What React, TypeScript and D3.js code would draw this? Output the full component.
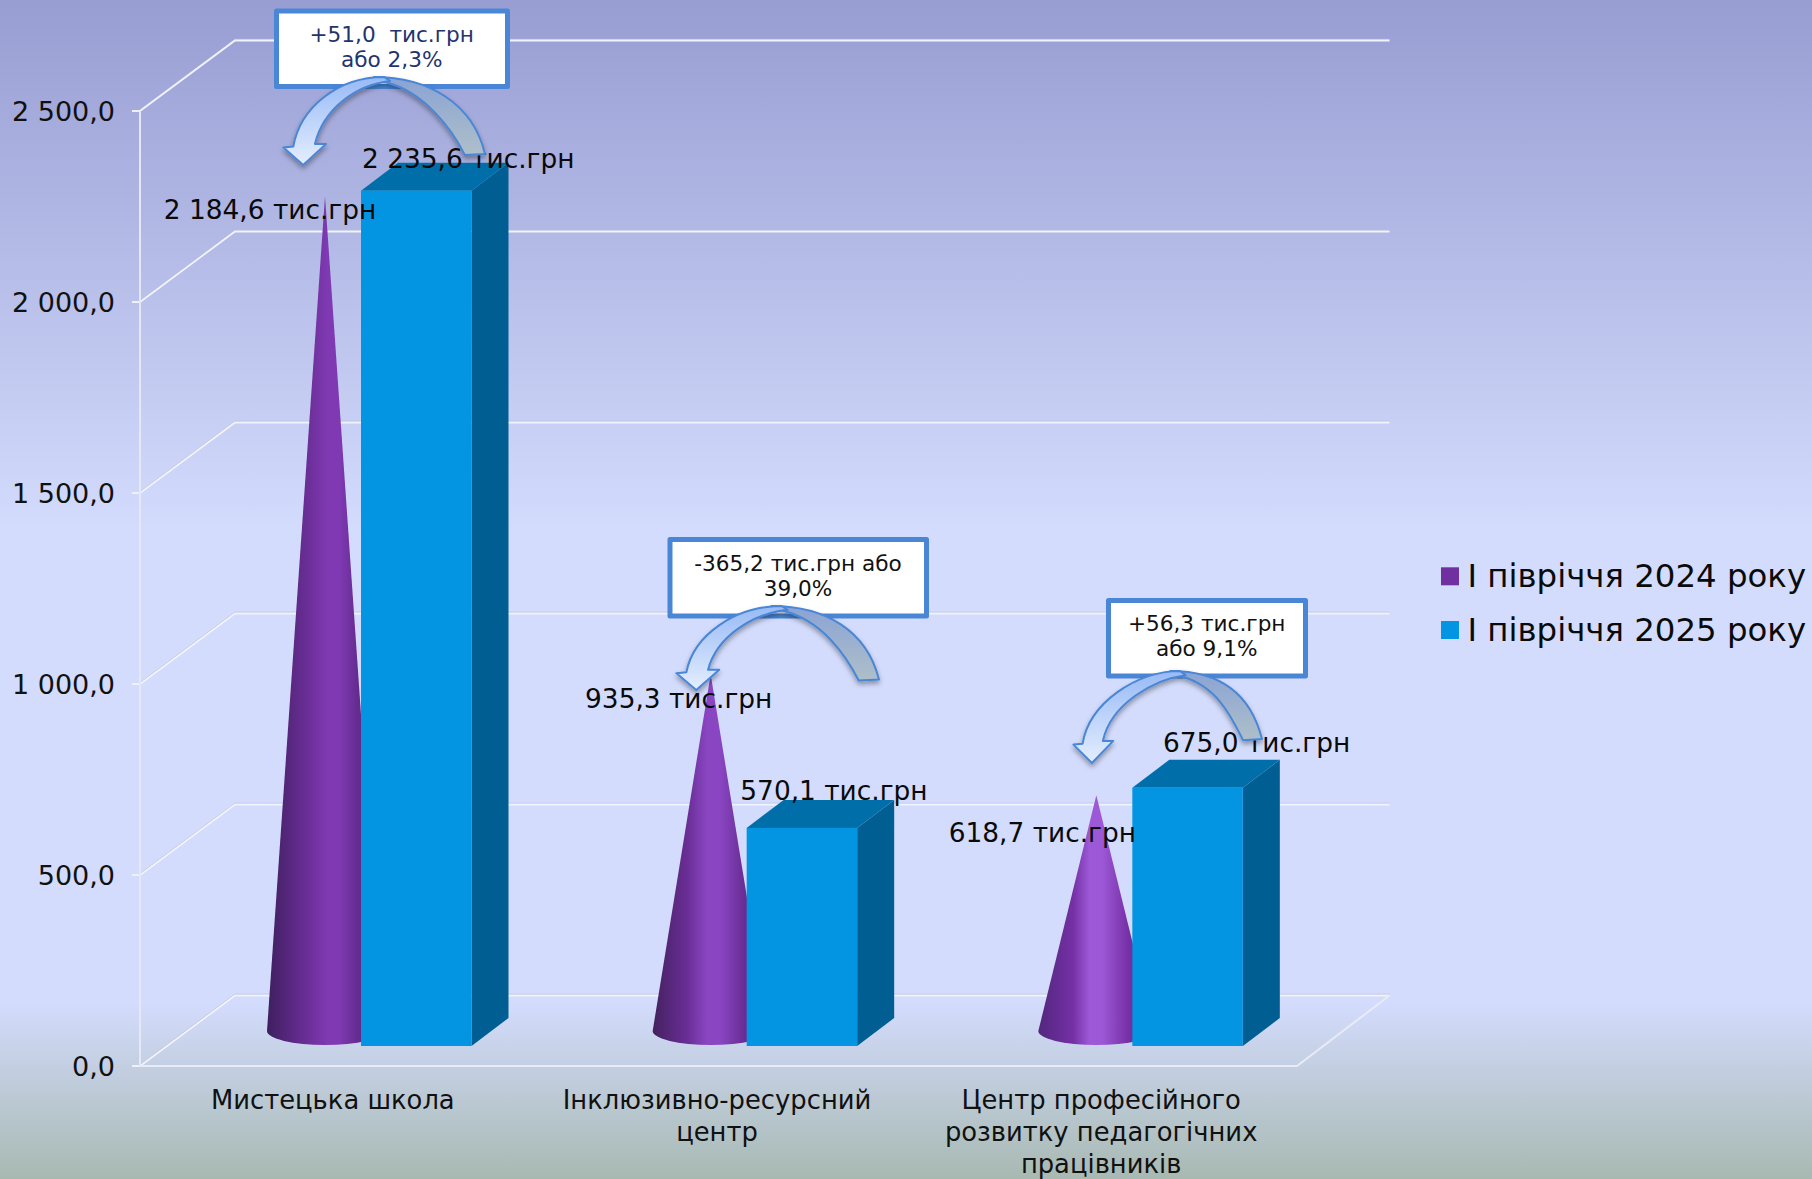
import { useEffect, useRef } from "react"
import * as d3 from "d3"

const categories = ["Мистецька школа", "Інклюзивно-ресурсний центр", "Центр професійного розвитку педагогічних працівників"]
const categoryLines = [["Мистецька школа"], ["Інклюзивно-ресурсний", "центр"], ["Центр професійного", "розвитку педагогічних", "працівників"]]
const seriesNames = ["І півріччя 2024 року", "І півріччя 2025 року"]
const values2024 = [2184.6, 935.3, 618.7]
const values2025 = [2235.6, 570.1, 675.0]
const yTicks = [0, 500, 1000, 1500, 2000, 2500]
const calloutTexts = [
  ["+51,0  тис.грн", "або 2,3%"],
  ["-365,2 тис.грн або", "39,0%"],
  ["+56,3 тис.грн", "або 9,1%"],
]

const WIDTH = 1812
const HEIGHT = 1179
const PURPLE = "#7030a0"
const BLUE = "#0395e1"
const FONT = "'DejaVu Sans', Verdana, sans-serif"

// label anchors, relative to the mark they belong to
const coneLabelOffset = [[-55, 23], [-32, 34], [-54, 47]]
const barLabelOffset = [[52, -23], [32, -28], [69, -36]]

const calloutBoxes = [
  { x: 276.5, y: 11, w: 231, h: 75.5, color: "#1f3470", cx: 391.7, base: 41.7 },
  { x: 670, y: 539.5, w: 256.5, h: 76.5, color: "#111", cx: 798, base: 571 },
  { x: 1108.5, y: 600.5, w: 197, h: 75.5, color: "#111", cx: 1206.7, base: 631 },
]
const calloutArrows = [
  { x0: 283, x1: 485, y0: 77, y1: 165, tail: 0.875, peak: 0 },
  { x0: 676, x1: 879, y0: 606, y1: 690, tail: 0.875, peak: 0.02 },
  { x0: 1073, x1: 1262, y0: 671, y1: 763, tail: 0.74, peak: 0.066 },
]
// the shine on the cones is stronger on the shorter ones
const coneShades = [
  { edge: "#3f1f60", mid: "#652c90", light: "#7f39b2", pos: 0.6 },
  { edge: "#44215f", mid: "#6a2e96", light: "#8a46c2", pos: 0.55 },
  { edge: "#52277f", mid: "#7530a5", light: "#9c58d6", pos: 0.52 },
]

const locale = d3.formatLocale({ decimal: ",", thousands: " ", grouping: [3], currency: ["", ""] })
const fmt = locale.format(",.1f")

export default function App() {
  const svgRef = useRef<SVGSVGElement>(null)

  useEffect(() => {
    if (!svgRef.current) return
    const svg = d3.select(svgRef.current)
    svg.selectAll("*").remove()

    // 3d frame of the chart
    const x0 = 140
    const x1 = 1297
    const depthX = 95
    const depthY = -70.5
    const backRight = 1389.5
    const yWall = d3.scaleLinear().domain([0, 2500]).range([1066, 111])
    const yBar = d3.scaleLinear().domain([0, 2500]).range([1046, 89.5])
    const xBand = d3.scaleBand<string>().domain(categories).range([x0, x1])

    const defs = svg.append("defs")

    const addGradient = (id: string, x2: number, y2: number, stops: [number, string][]) => {
      const g = defs.append("linearGradient").attr("id", id).attr("x1", 0).attr("y1", 0).attr("x2", x2).attr("y2", y2)
      stops.forEach(([o, c]) => g.append("stop").attr("offset", o).attr("stop-color", c))
    }
    addGradient("bg", 0, 1, [
      [0, "#989dd2"],
      [0.45, "#d3dcfd"],
      [0.85, "#d3dcfd"],
      [1, "#a8b9b2"],
    ])
    coneShades.forEach((s, i) => {
      addGradient(`cone${i}`, 1, 0, [
        [0, s.edge],
        [0.3, s.mid],
        [s.pos - 0.08, s.light],
        [s.pos + 0.03, s.light],
        [0.78, s.mid],
        [1, "#4e2578"],
      ])
    })
    addGradient("arrowFront", 0, 1, [
      [0, "#98baf5"],
      [1, "#e4eeff"],
    ])
    addGradient("arrowBack", 0, 1, [
      [0, "#8aa3d4"],
      [1, "#aebfc9"],
    ])

    const shadow = defs.append("filter").attr("id", "shadow").attr("x", "-20%").attr("y", "-20%").attr("width", "140%").attr("height", "140%")
    shadow.append("feDropShadow").attr("dx", 0).attr("dy", 3).attr("stdDeviation", 2.5).attr("flood-color", "#000").attr("flood-opacity", 0.35)

    svg.append("rect").attr("width", WIDTH).attr("height", HEIGHT).attr("fill", "url(#bg)")

    // Gridlines on the walls
    const grid = svg.append("g").attr("fill", "none")
    yTicks.forEach((t) => {
      const y = yWall(t)
      const line = d3.path()
      line.moveTo(x0, y)
      line.lineTo(x0 + depthX, y + depthY)
      line.lineTo(backRight, y + depthY)
      grid.append("path").attr("d", line.toString()).attr("stroke", "#b4bad8").attr("stroke-width", 1).attr("transform", "translate(0,-1.2)")
      grid.append("path").attr("d", line.toString()).attr("stroke", "#f1f3fc").attr("stroke-width", 1.8)
      grid.append("line").attr("x1", x0 - 8).attr("x2", x0).attr("y1", y).attr("y2", y).attr("stroke", "#eef1fb").attr("stroke-width", 2)
    })
    grid.append("line").attr("x1", x0).attr("x2", x0).attr("y1", yWall(2500)).attr("y2", yWall(0)).attr("stroke", "#e4e7f5").attr("stroke-width", 2)
    const floor = d3.path()
    floor.moveTo(x0, yWall(0))
    floor.lineTo(x1, yWall(0))
    floor.lineTo(backRight, yWall(0) + depthY)
    grid.append("path").attr("d", floor.toString()).attr("stroke", "#e8ebf6").attr("stroke-width", 2)

    // Y axis labels
    svg
      .append("g")
      .selectAll("text")
      .data(yTicks)
      .enter()
      .append("text")
      .attr("x", 115)
      .attr("y", (d) => yWall(d) + 10)
      .attr("text-anchor", "end")
      .attr("font-size", 27)
      .attr("fill", "#111")
      .text((d) => fmt(d))

    // Cones
    const coneOffset = 185
    const coneRx = 58
    const barOffset = 221
    const barWidth = 110.5
    const barDx = 37
    const barDy = -28
    const coneBaseY = yBar(0) - 15
    const coneRy = 14

    categories.forEach((c, i) => {
      const cx = (xBand(c) || 0) + coneOffset
      svg
        .append("path")
        .attr(
          "d",
          `M${cx - coneRx},${coneBaseY} L${cx},${yBar(values2024[i]) + barDy / 2} L${cx + coneRx},${coneBaseY} A${coneRx},${coneRy} 0 0 1 ${cx - coneRx},${coneBaseY} Z`,
        )
        .attr("fill", `url(#cone${i})`)
    })

    // Bars
    categories.forEach((c, i) => {
      const left = (xBand(c) || 0) + barOffset
      const right = left + barWidth
      const top = yBar(values2025[i])
      const bottom = yBar(0)
      const g = svg.append("g")
      g.append("path")
        .attr("d", `M${right},${top} L${right + barDx},${top + barDy} L${right + barDx},${bottom + barDy} L${right},${bottom} Z`)
        .attr("fill", "#005e93")
      g.append("path")
        .attr("d", `M${left},${top} L${left + barDx},${top + barDy} L${right + barDx},${top + barDy} L${right},${top} Z`)
        .attr("fill", "#006fa9")
      g.append("rect").attr("x", left).attr("y", top).attr("width", barWidth).attr("height", bottom - top).attr("fill", BLUE)
    })

    // Value labels
    const labels = svg.append("g").attr("font-size", 26.4).attr("fill", "#0a0a0a").attr("text-anchor", "middle")
    categories.forEach((c, i) => {
      const cx = (xBand(c) || 0) + coneOffset
      labels
        .append("text")
        .attr("x", cx + coneLabelOffset[i][0])
        .attr("y", yBar(values2024[i]) + barDy / 2 + coneLabelOffset[i][1])
        .text(`${fmt(values2024[i])} тис.грн`)
      const bx = (xBand(c) || 0) + barOffset + barWidth / 2
      labels
        .append("text")
        .attr("x", bx + barLabelOffset[i][0])
        .attr("y", yBar(values2025[i]) + barLabelOffset[i][1])
        .text(`${fmt(values2025[i])} тис.грн`)
    })

    // Category labels
    categoryLines.forEach((lines, i) => {
      const cx = (xBand(categories[i]) || 0) + xBand.bandwidth() / 2
      lines.forEach((l, k) => {
        svg
          .append("text")
          .attr("x", cx - i * 1.5)
          .attr("y", 1109 + k * 32)
          .attr("text-anchor", "middle")
          .attr("font-size", 25.8)
          .attr("fill", "#111")
          .text(l)
      })
    })

    // Callout boxes
    calloutBoxes.forEach((b, i) => {
      svg
        .append("rect")
        .attr("x", b.x)
        .attr("y", b.y)
        .attr("width", b.w)
        .attr("height", b.h)
        .attr("fill", "#fff")
        .attr("stroke", "#4a86d6")
        .attr("stroke-width", 5)
        .attr("stroke-linejoin", "round")
      calloutTexts[i].forEach((t, k) => {
        svg
          .append("text")
          .attr("x", b.cx)
          .attr("y", b.base + k * 25.3)
          .attr("text-anchor", "middle")
          .attr("font-size", 21.6)
          .attr("xml:space", "preserve")
          .style("white-space", "pre")
          .attr("fill", b.color)
          .text(t)
      })
    })

    // Curved arrows over the boxes
    calloutArrows.forEach((a) => {
      const ax = d3.scaleLinear().domain([0, 1]).range([a.x0, a.x1])
      const ay = d3.scaleLinear().domain([0, 1]).range([a.y0, a.y1])
      const p = a.peak
      const t = a.tail
      const back = d3.path()
      back.moveTo(ax(0.45 + p), ay(0))
      back.bezierCurveTo(ax(0.72 + p), ay(0), ax(0.94), ay(0.3 * (t / 0.875)), ax(1), ay(t))
      back.lineTo(ax(0.9), ay(t + 0.012))
      back.bezierCurveTo(ax(0.84), ay(0.6 * (t / 0.875)), ax(0.7 + p), ay(0.17), ax(0.51 + p), ay(0.06))
      back.closePath()
      const front = d3.path()
      front.moveTo(ax(0.051), ay(0.79))
      front.bezierCurveTo(ax(0.085), ay(0.35), ax(0.27 + p), ay(0), ax(0.5 + p), ay(0))
      front.lineTo(ax(0.53 + p), ay(0.045))
      front.bezierCurveTo(ax(0.36 + p), ay(0.09), ax(0.2), ay(0.36), ax(0.158), ay(0.76))
      front.lineTo(ax(0.213), ay(0.76))
      front.lineTo(ax(0.1), ay(1))
      front.lineTo(ax(0.002), ay(0.8))
      front.closePath()
      const g = svg.append("g").attr("stroke", "#4a86d6").attr("stroke-width", 2).attr("stroke-linejoin", "round").attr("filter", "url(#shadow)")
      g.append("path").attr("d", back.toString()).attr("fill", "url(#arrowBack)")
      g.append("path").attr("d", front.toString()).attr("fill", "url(#arrowFront)")
    })

    // Legend
    const legendColors = [PURPLE, BLUE]
    seriesNames.forEach((name, i) => {
      const y = 567.3 + i * 53.7
      svg.append("rect").attr("x", 1441).attr("y", y).attr("width", 18).attr("height", 18).attr("fill", legendColors[i])
      svg.append("text").attr("x", 1467.5).attr("y", y + 19.5).attr("font-size", 32.4).attr("fill", "#0a0a0a").text(name)
    })
  }, [])

  return (
    <svg
      ref={svgRef}
      width={WIDTH}
      height={HEIGHT}
      style={{ position: "absolute", left: 0, top: 0, display: "block", fontFamily: FONT }}
    />
  )
}
